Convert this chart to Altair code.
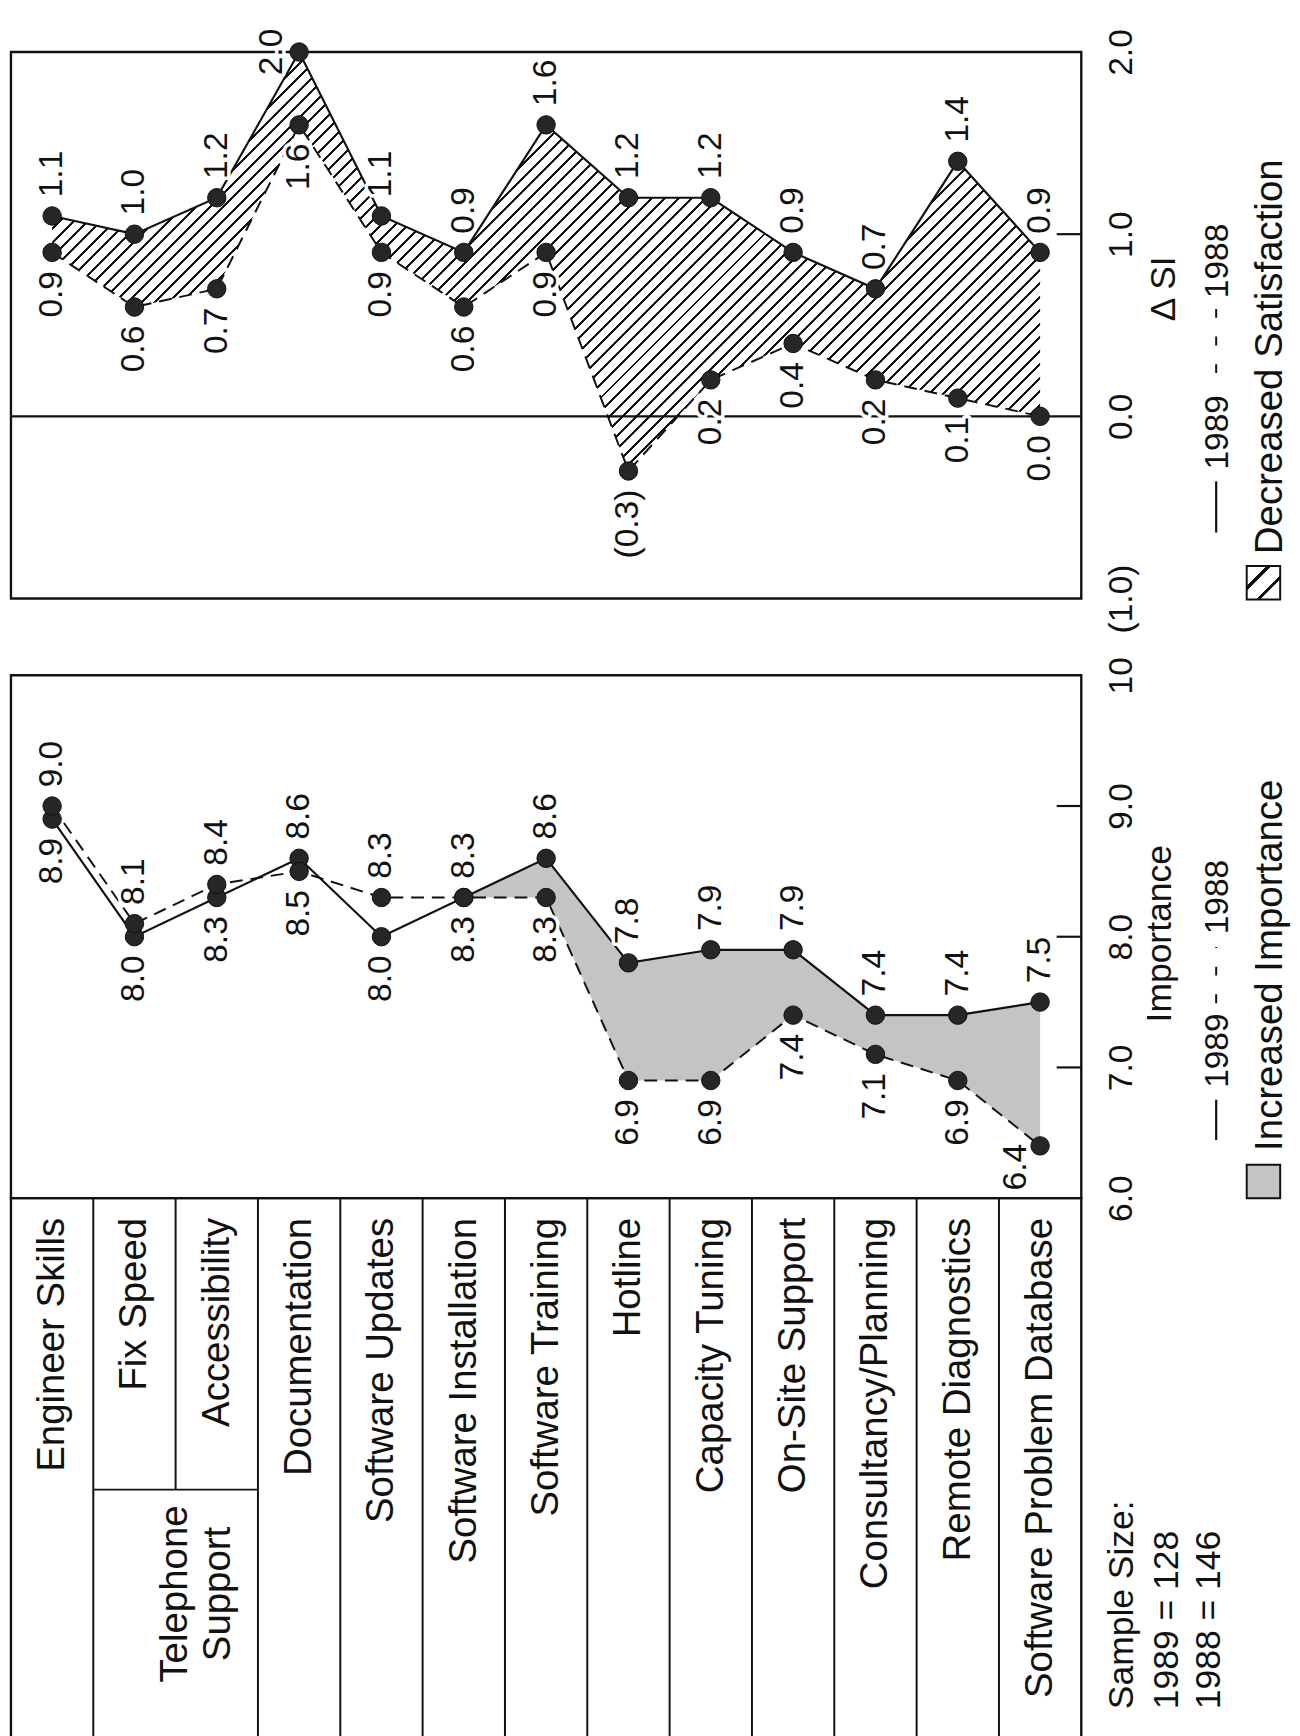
import altair as alt
import numpy as np
import pandas as pd

# ---------------- data ----------------
categories = [
    "Engineer Skills", "Fix Speed", "Accessibility", "Documentation",
    "Software Updates", "Software Installation", "Software Training",
    "Hotline", "Capacity Tuning", "On-Site Support", "Consultancy/Planning",
    "Remote Diagnostics", "Software Problem Database",
]
imp_1989 = [8.9, 8.0, 8.3, 8.6, 8.0, 8.3, 8.6, 7.8, 7.9, 7.9, 7.4, 7.4, 7.5]
imp_1988 = [9.0, 8.1, 8.4, 8.5, 8.3, 8.3, 8.3, 6.9, 6.9, 7.4, 7.1, 6.9, 6.4]
dsi_1989 = [1.1, 1.0, 1.2, 2.0, 1.1, 0.9, 1.6, 1.2, 1.2, 0.9, 0.7, 1.4, 0.9]
dsi_1988 = [0.9, 0.6, 0.7, 1.6, 0.9, 0.6, 0.9, -0.3, 0.2, 0.4, 0.2, 0.1, 0.0]
years = ["1989", "1988"]
imp_ticks = [6, 7, 8, 9, 10]
dsi_ticks = [-1, 0, 1, 2]
group_label = "Telephone\nSupport"
group_members = ["Fix Speed", "Accessibility"]
shade_from = "Software Installation"
legend_dsi = "Decreased Satisfaction"
legend_imp = "Increased Importance"
sample_lines = ["Sample Size:", "1989 = 128", "1988 = 146"]

# ---------------- layout / style ----------------
FONT = "Liberation Sans"
W = 1087
H_D, H_I, H_T = 555, 531, 560
GAP = 78
SPLIT = 296 / H_T
PT_SIZE = 350
LAB = 34
LW = 2.2
DASH = [13, 8]
STIPPLE = "#c4c4c4"
INK = "#111111"
CAT_FS = 39

n = len(categories)
step = W / n
D_MIN, D_MAX = -1.0, 2.0
I_MIN, I_MAX = 6.0, 10.0
ppu_d = H_D / (D_MAX - D_MIN)
ppu_i = H_I / (I_MAX - I_MIN)


def hatch_gradient(bw, bh, period_px=9.7, frac=0.22):
    r = bh / bw
    k = (1 + r) / (1 + r * r)
    span = (bw + bh) / np.sqrt(2)
    N = int(round(span / period_px))
    stops = []
    for i in range(N):
        a = i / N
        b = (i + frac) / N
        c = (i + 1) / N
        stops += [
            alt.GradientStop(color=INK, offset=a),
            alt.GradientStop(color=INK, offset=b),
            alt.GradientStop(color="white", offset=b),
            alt.GradientStop(color="white", offset=c),
        ]
    return alt.LinearGradient(gradient="linear", stops=stops, x1=0, y1=0, x2=k, y2=k * r)


band_w = (n - 1) * step
band_h = (max(dsi_1989 + dsi_1988) - min(dsi_1989 + dsi_1988)) * ppu_d
HATCH = hatch_gradient(band_w, band_h)

sw_stops = []
for c0 in (1 / 3, 2 / 3):
    sw_stops += [
        alt.GradientStop(color="white", offset=c0 - 0.035),
        alt.GradientStop(color=INK, offset=c0 - 0.035),
        alt.GradientStop(color=INK, offset=c0 + 0.035),
        alt.GradientStop(color="white", offset=c0 + 0.035),
    ]
SW_HATCH = alt.LinearGradient(
    gradient="linear",
    stops=[alt.GradientStop(color="white", offset=0)] + sw_stops + [alt.GradientStop(color="white", offset=1)],
    x1=0, y1=0, x2=1, y2=1,
)

# ---------------- frames ----------------
wide = pd.DataFrame({
    "cat": categories, "idx": list(range(n)),
    "i89": imp_1989, "i88": imp_1988, "d89": dsi_1989, "d88": dsi_1988,
})


def fmt_dsi(v):
    return f"({abs(v):.1f})" if v < 0 else f"{v:.1f}"


def fmt_imp(v):
    return f"{v:.1f}"


def long_df(v89, v88, fmt, dmin, dmax, ppu):
    rows = []
    for i, c in enumerate(categories):
        for yr, v, other in ((years[0], v89[i], v88[i]), (years[1], v88[i], v89[i])):
            up = v > other or (v == other and yr == years[0])
            if up:
                pos = "side_up" if (dmax - v) * ppu < 70 else "above"
            else:
                pos = "side_down" if (v - dmin) * ppu < 70 else "below"
            rows.append(dict(cat=c, year=yr, v=v, lbl=fmt(v), pos=pos))
    return pd.DataFrame(rows)


long_d = long_df(dsi_1989, dsi_1988, fmt_dsi, D_MIN, D_MAX, ppu_d)
long_i = long_df(imp_1989, imp_1988, fmt_imp, I_MIN, I_MAX, ppu_i)
one = pd.DataFrame({"k": [0]})

XP = alt.X("cat:N", sort=categories,
           scale=alt.Scale(type="point", domain=categories, padding=0.5), axis=None)

POS = {
    "above": dict(align="left", dx=19),
    "below": dict(align="right", dx=-19),
    "side_up": dict(align="center", dy=-27),
    "side_down": dict(align="right", dx=2, dy=-24),
}


def make_axis(values, expr, title, tx, ty):
    return alt.Axis(
        orient="right", values=values, labelExpr=expr,
        labelAngle=270, labelAlign="center", labelBaseline="middle",
        labelPadding=41, ticks=False, tickSize=0, domain=False, grid=False,
        labelFont=FONT, labelFontSize=LAB, labelColor=INK,
        labelFlush=False, labelOverlap=False, labelBound=False,
        title=title, titleFont=FONT, titleFontSize=36, titleFontWeight="normal",
        titleColor=INK, titleAngle=270, titleAlign="center", titleBaseline="middle",
        titleX=tx, titleY=ty,
    )


def panel(long, yscale, yaxis, band_chart, zero, inner_ticks, height, leg):
    Y = lambda f: alt.Y(f, scale=yscale, axis=yaxis)
    layers = [band_chart]
    if zero:
        layers.append(alt.Chart(pd.DataFrame({"v": [0.0]})).mark_rule(color=INK, strokeWidth=LW)
                      .encode(y=Y("v:Q")))
    layers.append(alt.Chart(pd.DataFrame({"v": inner_ticks})).mark_rule(color=INK, strokeWidth=LW)
                  .encode(y=Y("v:Q"), x=alt.value(W - 25), x2=alt.value(W)))
    layers.append(alt.Chart(long[long.year == years[1]]).mark_line(color=INK, strokeWidth=2.0, strokeDash=DASH)
                  .encode(x=XP, y=Y("v:Q")))
    layers.append(alt.Chart(long[long.year == years[0]]).mark_line(color=INK, strokeWidth=LW)
                  .encode(x=XP, y=Y("v:Q")))
    halo, txt = [], []
    for pos, kw in POS.items():
        sub = long[long.pos == pos]
        if sub.empty:
            continue
        base = alt.Chart(sub).encode(x=XP, y=Y("v:Q"), text="lbl:N")
        halo.append(base.mark_text(angle=270, baseline="middle", font=FONT, fontSize=LAB,
                                   fill="white", stroke="white", strokeWidth=7, strokeJoin="round", **kw))
        txt.append(base.mark_text(angle=270, baseline="middle", font=FONT, fontSize=LAB, fill=INK, **kw))
    layers += halo
    layers.append(alt.Chart(long).mark_circle(size=PT_SIZE, color="#262626", opacity=1,
                                              stroke="#111", strokeWidth=1)
                  .encode(x=XP, y=Y("v:Q")))
    layers += txt
    # legend
    LX = 1224
    layers.append(alt.Chart(one).mark_rule(color=INK, strokeWidth=LW)
                  .encode(x=alt.value(LX), y=alt.value(leg["solid"][0]), y2=alt.value(leg["solid"][1])))
    layers.append(alt.Chart(one).mark_rule(color=INK, strokeWidth=2.0, strokeDash=[9, 19])
                  .encode(x=alt.value(LX), y=alt.value(leg["dash"][0]), y2=alt.value(leg["dash"][1])))
    for yr, yy in zip(years, (leg["t89"], leg["t88"])):
        layers.append(alt.Chart(one).mark_text(angle=270, align="left", baseline="middle",
                                               font=FONT, fontSize=LAB, fill=INK)
                      .encode(x=alt.value(LX + 2), y=alt.value(yy), text=alt.value(yr)))
    layers.append(alt.Chart(one).mark_rect(fill=leg["fill"], stroke=INK, strokeWidth=2)
                  .encode(x=alt.value(1255), x2=alt.value(1289),
                          y=alt.value(leg["sw"][0]), y2=alt.value(leg["sw"][1])))
    layers.append(alt.Chart(one).mark_text(angle=270, align="left", baseline="middle",
                                           font=FONT, fontSize=39, fill=INK)
                  .encode(x=alt.value(1279), y=alt.value(leg["swt"]), text=alt.value(leg["label"])))
    return alt.layer(*layers).properties(width=W, height=height)


# ---- Delta SI panel ----
ys_d = alt.Scale(domain=[D_MIN, D_MAX], nice=False, zero=False)
ax_d = make_axis(dsi_ticks,
                 "datum.value < 0 ? '(' + format(-datum.value, '.1f') + ')' : format(datum.value, '.1f')",
                 "Δ SI", 84, 240)
band_d = alt.Chart(wide).mark_area(fill=HATCH, opacity=1, strokeWidth=0).encode(
    x=XP, y=alt.Y("d88:Q", scale=ys_d, axis=ax_d), y2="d89:Q")
dsi_chart = panel(long_d, ys_d, ax_d, band_d, True, [1.0], H_D,
                  dict(solid=(488, 436), dash=(326, 259), t89=424, t88=250,
                       sw=(522, 556), swt=510, fill=SW_HATCH, label=legend_dsi))

# ---- Importance panel ----
ys_i = alt.Scale(domain=[I_MIN, I_MAX], nice=False, zero=False)
ax_i = make_axis(imp_ticks,
                 "datum.value == 10 ? '10' : format(datum.value, '.1f')",
                 "Importance", 80, 262)
start = categories.index(shade_from)
band_i = alt.Chart(wide[wide.idx >= start]).mark_area(fill=STIPPLE, opacity=1, strokeWidth=0).encode(
    x=XP, y=alt.Y("i88:Q", scale=ys_i, axis=ax_i), y2="i89:Q")
imp_chart = panel(long_i, ys_i, ax_i, band_i, False, [7, 8, 9], H_I,
                  dict(solid=(472, 431), dash=(333, 276), t89=419, t88=263,
                       sw=(497, 531), swt=483, fill=STIPPLE, label=legend_imp))

# ---- category table ----
XB = dict(sort=categories,
          scale=alt.Scale(type="band", domain=categories, paddingInner=0, paddingOuter=0),
          axis=None)
ty = alt.Scale(domain=[0, 1], reverse=True, nice=False, zero=False)
vrows = []
for c in categories[1:]:
    vrows.append(dict(cat=c, y0=0.0, y1=SPLIT if c == group_members[1] else 1.0))
vrules = pd.DataFrame(vrows)
after_group = categories[categories.index(group_members[-1]) + 1]
hrule = pd.DataFrame({"cat": [group_members[0]], "cat2": [after_group], "y": [SPLIT]})

t_v = alt.Chart(vrules).mark_rule(color=INK, strokeWidth=2).encode(
    x=alt.X("cat:N", bandPosition=0, **XB),
    y=alt.Y("y0:Q", scale=ty, axis=None), y2="y1:Q")
t_h = alt.Chart(hrule).mark_rule(color=INK, strokeWidth=2).encode(
    x=alt.X("cat:N", bandPosition=0, **XB),
    x2=alt.X2("cat2:N", bandPosition=0),
    y=alt.Y("y:Q", scale=ty, axis=None))
t_txt = alt.Chart(pd.DataFrame({"cat": categories})).mark_text(
    angle=270, align="right", baseline="middle", font=FONT, fontSize=CAT_FS, fill=INK).encode(
    x=alt.X("cat:N", **XB), y=alt.value(20), text="cat:N")
t_grp = alt.Chart(pd.DataFrame({"cat": [group_members[0]], "lbl": [group_label]})).mark_text(
    angle=270, align="center", baseline="middle", font=FONT, fontSize=CAT_FS, fill=INK,
    lineBreak="\n", lineHeight=43).encode(
    x=alt.X("cat:N", bandPosition=1, **XB), y=alt.value(402), text="lbl:N")
t_layers = [t_v, t_h, t_txt, t_grp]
for k, (s, xx) in enumerate(zip(sample_lines, (1129, 1174, 1217))):
    t_layers.append(alt.Chart(one).mark_text(angle=270, align="left", baseline="middle",
                                             font=FONT, fontSize=36, fill=INK)
                    .encode(x=alt.value(xx), y=alt.value(519), text=alt.value(s)))
table_chart = alt.layer(*t_layers).properties(width=W, height=H_T)

chart = alt.vconcat(
    dsi_chart,
    alt.vconcat(imp_chart, table_chart, spacing=0, bounds="flush"),
    spacing=GAP, bounds="flush",
).properties(
    padding={"left": 0, "top": 6, "right": 0, "bottom": 0},
    background="white",
).configure_view(stroke=INK, strokeWidth=2.4)

chart.save("out.html", embed_options={"renderer": "svg", "actions": False})
